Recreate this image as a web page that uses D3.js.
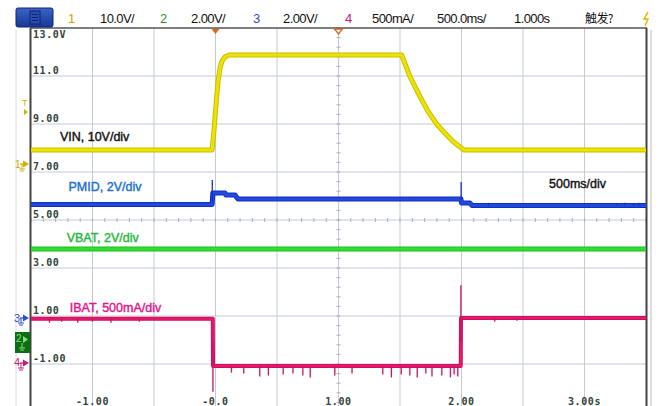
<!DOCTYPE html>
<html>
<head>
<meta charset="utf-8">
<script src="https://cdn.jsdelivr.net/npm/d3@7"></script>
<style>
  html, body { margin: 0; padding: 0; background: #fff; }
  svg { display: block; }
</style>
</head>
<body>
<svg id="scope" width="660" height="406"></svg>
<script>
// ---- Channel setup (toolbar) ----
const channelNames = ["1", "2", "3", "4"];
const channelScales = ["10.0V/", "2.00V/", "2.00V/", "500mA/"];
const timebase = "500.0ms/";
const delayText = "1.000s";
const triggerText = "触发?";

// ---- Axis tick labels ----
const leftTickValues = [13, 11, 9, 7, 5, 3, 1, -1];
const leftTickLabels = ["13.0V", "11.0", "9.00", "7.00", "5.00", "3.00", "1.00", "-1.00"];
const timeTickValues = [-1, 0, 1, 2, 3];
const timeTickLabels = ["-1.00", "-0.0", "1.00", "2.00", "3.00s"];

// ---- VIN (ch1, V) ----
const vinTime = [-1.5, -0.028, -0.012, 0.004, 0.020, 0.037, 0.053, 0.077, 0.110, 1.514, 1.581, 1.663, 1.730, 1.798, 1.866, 1.933, 2.002, 2.020, 3.5];
const vinVolts = [3.54, 3.54, 7.71, 12.92, 17.71, 20.63, 22.08, 22.92, 23.33, 23.33, 18.81, 14.65, 11.52, 8.96, 7.02, 5.27, 3.90, 3.54, 3.54];

// ---- PMID (ch3, V) ----
const pmidTime = [-1.5, -0.027, -0.022, 0.077, 0.085, 0.159, 0.183, 1.996, 2.000, 2.069, 2.085, 3.5];
const pmidVolts = [4.73, 4.73, 5.21, 5.21, 5.12, 5.12, 4.96, 4.96, 4.79, 4.79, 4.69, 4.69];
const pmidSpikeTime = [-0.026, 1.997, 2.22, 3.26, 3.33, 3.40, 3.44];
const pmidSpikeVolts = [5.75, 5.67, 4.80, 4.79, 4.80, 4.79, 4.80];

// ---- VBAT (ch2, V) ----
const vbatTime = [-1.5, 3.5];
const vbatVolts = [3.88, 3.88];

// ---- IBAT (ch4, A) ----
const ibatTime = [-1.5, -0.022, -0.020, 1.994, 1.996, 3.5];
const ibatAmps = [0.46, 0.46, -0.03, -0.03, 0.47, 0.47];
const ibatSpikeTime = [-1.35, -1.25, -1.12, -1.0, -0.85, -0.62, -0.021, 0.13, 0.23, 0.36, 0.43, 0.55, 0.63, 0.71, 0.77, 0.97, 1.11, 1.36, 1.43, 1.51, 1.58, 1.64, 1.71, 1.76, 1.84, 1.91, 1.94, 1.97, 1.995, 2.27, 2.45];
const ibatSpikeAmps = [0.42, 0.43, 0.42, 0.43, 0.42, 0.43, -0.30, -0.10, -0.11, -0.14, -0.13, -0.12, -0.11, -0.13, -0.15, -0.13, -0.11, -0.12, -0.15, -0.12, -0.13, -0.15, -0.11, -0.14, -0.13, -0.15, -0.12, -0.14, 0.81, 0.43, 0.44];

// ---- Annotations ----
const notes = [
  { text: "VIN, 10V/div", color: "#111111", t: -1.265, level: 5.4, ch: 0 },
  { text: "PMID, 2V/div", color: "#1a6fd0", t: -1.195, level: 5.3, ch: 2 },
  { text: "500ms/div", color: "#111111", t: 2.712, level: 5.4, ch: 2 },
  { text: "VBAT, 2V/div", color: "#22b83c", t: -1.21, level: 4.15, ch: 1 },
  { text: "IBAT, 500mA/div", color: "#e0158a", t: -1.185, level: 0.53, ch: 3 }
];

// ---- Geometry ----
const plot = { left: 31, right: 646, top: 28 };
const divPx = 48;
const svg = d3.select("#scope");

const x = d3.scaleLinear().domain([-1.5, 3.5]).range([plot.left, plot.right]);
// Left-side readout scale (2 V/div, 13 V at top)
const yLeft = d3.scaleLinear().domain([13, -3]).range([plot.top, plot.top + 8 * divPx]);

// Per-channel vertical scales: ground marker position and units per division
const chGround = [167, 342, 318, 363];
const chPerDiv = [10, 2, 2, 0.5];
const yCh = chGround.map((g, i) =>
  d3.scaleLinear().domain([0, chPerDiv[i]]).range([g, g - divPx]));

// ---- Grid ----
const gridColor = "#c6cad8";
const grid = svg.append("g");
const vLines = d3.range(1, 10).map(i => -1.5 + i * 0.5);
grid.selectAll("line.v").data(vLines).join("line")
  .attr("x1", d => x(d)).attr("x2", d => x(d))
  .attr("y1", plot.top).attr("y2", 406)
  .attr("stroke", gridColor).attr("stroke-width", 1);
const hLines = d3.range(1, 8).map(i => 13 - 2 * i);
grid.selectAll("line.h").data(hLines).join("line")
  .attr("x1", plot.left).attr("x2", plot.right)
  .attr("y1", d => yLeft(d)).attr("y2", d => yLeft(d))
  .attr("stroke", gridColor).attr("stroke-width", 1);

// minor ticks on center lines
const cx = x(1.0), cy = yLeft(5);
grid.selectAll("line.mx").data(d3.range(-1.5, 3.5001, 0.1)).join("line")
  .attr("x1", d => x(d)).attr("x2", d => x(d))
  .attr("y1", cy - 2).attr("y2", cy + 2)
  .attr("stroke", "#a9aebf").attr("stroke-width", 1);
grid.selectAll("line.my").data(d3.range(13, -3.001, -0.4)).join("line")
  .attr("x1", cx - 2).attr("x2", cx + 2)
  .attr("y1", d => yLeft(d)).attr("y2", d => yLeft(d))
  .attr("stroke", "#a9aebf").attr("stroke-width", 1);

// ---- Frame ----
svg.append("line").attr("x1", 16).attr("x2", 16).attr("y1", 30).attr("y2", 406)
  .attr("stroke", "#d8d8d8").attr("stroke-width", 1);
svg.append("line").attr("x1", plot.left - 1).attr("x2", plot.right + 1)
  .attr("y1", plot.top).attr("y2", plot.top).attr("stroke", "#555").attr("stroke-width", 1.5);
svg.append("line").attr("x1", plot.left - 0.5).attr("x2", plot.left - 0.5)
  .attr("y1", plot.top).attr("y2", 406).attr("stroke", "#444").attr("stroke-width", 2);
svg.append("line").attr("x1", plot.right + 0.5).attr("x2", plot.right + 0.5)
  .attr("y1", plot.top).attr("y2", 406).attr("stroke", "#444").attr("stroke-width", 2);
svg.append("line").attr("x1", plot.right + 5).attr("x2", plot.right + 5)
  .attr("y1", plot.top + 2).attr("y2", 406).attr("stroke", "#bbb").attr("stroke-width", 1);

// ---- Left readout labels ----
const mono = "'DejaVu Sans Mono', 'Liberation Mono', monospace";
svg.append("g").selectAll("text").data(leftTickValues).join("text")
  .attr("x", 33)
  .attr("y", (d, i) => i === 0 ? yLeft(d) + 10 : yLeft(d) - 2)
  .attr("font-family", mono).attr("font-size", 10).attr("font-weight", "bold")
  .attr("fill", "#34443a").attr("letter-spacing", 0.6)
  .text((d, i) => leftTickLabels[i]);

// ---- Time labels along the bottom edge ----
svg.append("g").selectAll("text").data(timeTickValues).join("text")
  .attr("x", d => x(d)).attr("y", 405)
  .attr("text-anchor", "middle")
  .attr("font-family", mono).attr("font-size", 10).attr("font-weight", "bold")
  .attr("fill", "#34443a").attr("letter-spacing", 0.6)
  .text((d, i) => timeTickLabels[i]);

// ---- Traces ----
function baseAt(ts, vs, t) {
  let j = d3.bisectRight(ts, t) - 1;
  j = Math.max(0, Math.min(ts.length - 2, j));
  return vs[j] + (vs[j + 1] - vs[j]) * (t - ts[j]) / (ts[j + 1] - ts[j]);
}

function trace(ts, vs, ch, under, over, w, st, sv) {
  const pts = ts.map((t, i) => [t, vs[i]]);
  const line = d3.line().x(d => x(d[0])).y(d => yCh[ch](d[1]));
  const g = svg.append("g");
  g.append("path").attr("d", line(pts)).attr("fill", "none")
    .attr("stroke", under).attr("stroke-width", w).attr("stroke-linejoin", "round");
  g.append("path").attr("d", line(pts)).attr("fill", "none")
    .attr("stroke", over).attr("stroke-width", w - 2).attr("stroke-linejoin", "round");
  if (st) {
    g.selectAll("line").data(st).join("line")
      .attr("x1", d => x(d)).attr("x2", d => x(d))
      .attr("y1", d => yCh[ch](baseAt(ts, vs, d)))
      .attr("y2", (d, i) => yCh[ch](sv[i]))
      .attr("stroke", under).attr("stroke-width", 1.3);
  }
}

trace(vbatTime, vbatVolts, 1, "#1cbf1c", "#33dd33", 5);
trace(ibatTime, ibatAmps, 3, "#cc1060", "#e8186c", 4, ibatSpikeTime, ibatSpikeAmps);
trace(pmidTime, pmidVolts, 2, "#1230c0", "#2248dc", 5, pmidSpikeTime, pmidSpikeVolts);
trace(vinTime, vinVolts, 0, "#c9be00", "#ece400", 5);

// ---- Annotations ----
const sans = "'Liberation Sans', Arial, sans-serif";
svg.append("g").selectAll("text").data(notes).join("text")
  .attr("x", d => x(d.t)).attr("y", d => yCh[d.ch](d.level))
  .attr("font-family", sans).attr("font-size", 12.5)
  .attr("fill", d => d.color).attr("stroke", d => d.color).attr("stroke-width", 0.4)
  .text(d => d.text);

// ---- Trigger / delay markers on top edge ----
svg.append("path")
  .attr("d", `M${x(0) - 4},${plot.top + 1} L${x(0) + 4},${plot.top + 1} L${x(0)},${plot.top + 6} Z`)
  .attr("fill", "#e0661a");
svg.append("path")
  .attr("d", `M${x(1) - 4},${plot.top + 1} L${x(1) + 4},${plot.top + 1} L${x(1)},${plot.top + 6} Z`)
  .attr("fill", "#fff").attr("stroke", "#d0601a").attr("stroke-width", 1.3);

// ---- Channel markers on left edge ----
function gnd(g, xx, yy, color) {
  g.append("path").attr("d", `M${xx},${yy} V${yy + 5} M${xx - 3},${yy + 5} H${xx + 3} M${xx - 2},${yy + 7} H${xx + 2}`)
    .attr("stroke", color).attr("stroke-width", 1).attr("fill", "none");
}
function arrow(g, yy, color) {
  g.append("path").attr("d", `M23,${yy - 3.5} L29,${yy} L23,${yy + 3.5} Z`).attr("fill", color);
  g.append("line").attr("x1", 20).attr("x2", 24).attr("y1", yy).attr("y2", yy)
    .attr("stroke", color).attr("stroke-width", 1.2);
}
const mk = svg.append("g").attr("font-family", sans).attr("font-size", 10);
// trigger level
mk.append("text").attr("x", 22).attr("y", 106).attr("fill", "#d0b000").attr("font-size", 9).text("T");
mk.append("path").attr("d", "M24,109 L28,112 L24,115 Z").attr("fill", "#d0b000");
// ch1
mk.append("text").attr("x", 15).attr("y", 168).attr("fill", "#c8a800").text(channelNames[0]);
arrow(mk, chGround[0] - 3, "#d0b000");
gnd(mk, 22, chGround[0] - 3, "#d0b000");
// ch3
mk.append("text").attr("x", 14).attr("y", 322).attr("fill", "#2b4fd0").attr("font-size", 11).text(channelNames[2]);
arrow(mk, chGround[2], "#2b4fd0");
gnd(mk, 21, chGround[2], "#2b4fd0");
// ch2 (selected)
mk.append("rect").attr("x", 15).attr("y", 332).attr("width", 15).attr("height", 21).attr("fill", "#0b6e12");
mk.append("text").attr("x", 16).attr("y", 342).attr("fill", "#7fe07f").attr("font-size", 10).text(channelNames[1]);
mk.append("path").attr("d", "M23,336 L28,339.5 L23,343 Z").attr("fill", "#7fe07f");
gnd(mk, 22, 343, "#7fe07f");
// ch4
mk.append("text").attr("x", 14).attr("y", 366).attr("fill", "#c0207a").attr("font-size", 11).text(channelNames[3]);
arrow(mk, chGround[3], "#c0207a");
gnd(mk, 21, chGround[3], "#c0207a");

// ---- Toolbar ----
const bar = svg.append("g");
const grad = svg.append("defs").append("linearGradient").attr("id", "btn").attr("x1", 0).attr("x2", 0).attr("y1", 0).attr("y2", 1);
grad.append("stop").attr("offset", 0).attr("stop-color", "#3b63c8");
grad.append("stop").attr("offset", 1).attr("stop-color", "#173896");
bar.append("rect").attr("x", 16).attr("y", 8).attr("width", 37).attr("height", 19).attr("rx", 2)
  .attr("fill", "url(#btn)").attr("stroke", "#0e2670").attr("stroke-width", 1);
bar.append("rect").attr("x", 30).attr("y", 11).attr("width", 10).attr("height", 13)
  .attr("fill", "#2a4cb0").attr("stroke", "#0e2670").attr("stroke-width", 1);
[14.5, 17.5, 20.5].forEach(yy => bar.append("line").attr("x1", 32).attr("x2", 38)
  .attr("y1", yy).attr("y2", yy).attr("stroke", "#0e2670").attr("stroke-width", 1));

const chColors = ["#c8a400", "#2a9a2a", "#3a50c0", "#c0207a"];
const barItems = [
  { t: channelNames[0], x: 68, c: chColors[0] },
  { t: channelScales[0], x: 100, c: "#111" },
  { t: channelNames[1], x: 160, c: chColors[1] },
  { t: channelScales[1], x: 191, c: "#111" },
  { t: channelNames[2], x: 253, c: chColors[2] },
  { t: channelScales[2], x: 283, c: "#111" },
  { t: channelNames[3], x: 345, c: chColors[3] },
  { t: channelScales[3], x: 372, c: "#111" },
  { t: timebase, x: 437, c: "#111" },
  { t: delayText, x: 514, c: "#111" },
  { t: triggerText, x: 585, c: "#111" }
];
bar.selectAll("text").data(barItems).join("text")
  .attr("x", d => d.x).attr("y", 23)
  .attr("font-family", d => d.t === triggerText ? "'Noto Sans CJK SC', sans-serif" : sans)
  .attr("font-size", d => d.t === triggerText ? 12 : 13)
  .attr("letter-spacing", -0.6)
  .attr("fill", d => d.c).text(d => d.t);
// trigger-type glyph at far right
bar.append("path").attr("d", "M648,12 L644,19 L648,19 L645,26").attr("fill", "none")
  .attr("stroke", "#e0b800").attr("stroke-width", 1.5);
</script>
</body>
</html>
